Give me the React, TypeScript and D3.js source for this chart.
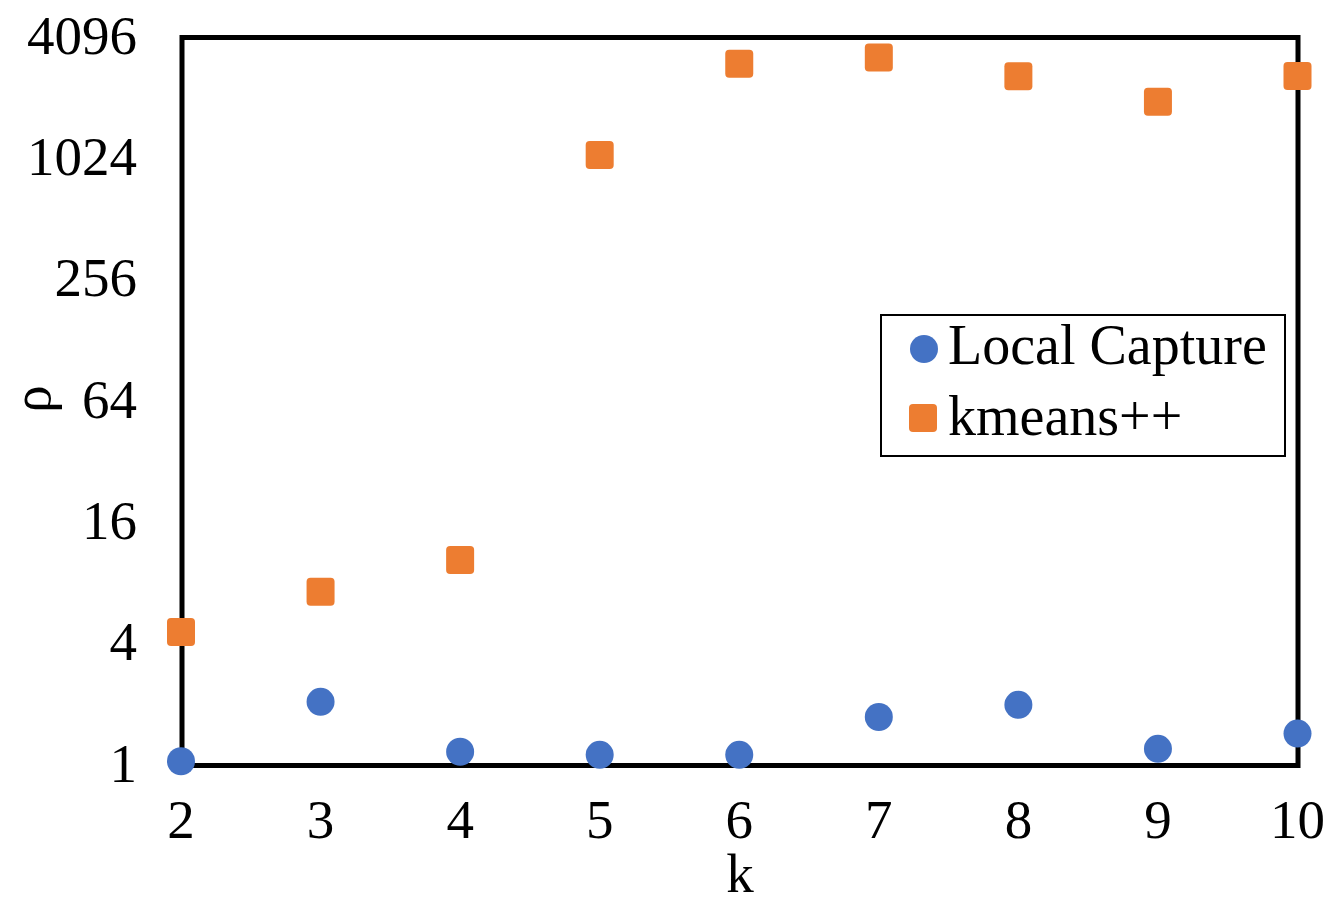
import React, { useEffect, useRef } from 'react';
import * as d3 from 'd3';

const kValues = [2, 3, 4, 5, 6, 7, 8, 9, 10];
const localCapture = [1.05, 2.07, 1.17, 1.13, 1.13, 1.74, 2.0, 1.21, 1.44];
const kmeansPP = [4.6, 7.28, 10.46, 1070, 3035, 3255, 2630, 1965, 2640];
const yTicks = [1, 4, 16, 64, 256, 1024, 4096];
const seriesNames = ['Local Capture', 'kmeans++'];

const BLUE = '#4472C4';
const ORANGE = '#ED7D31';
const FONT = '"Liberation Serif", "Times New Roman", serif';

export default function App() {
  const ref = useRef<SVGSVGElement | null>(null);

  useEffect(() => {
    const width = 1331;
    const height = 897;
    const margin = { top: 37.5, right: 33.5, bottom: 131.5, left: 181 };

    const svg = d3.select(ref.current);
    svg.selectAll('*').remove();

    const x = d3.scaleLinear()
      .domain([2, 10])
      .range([margin.left, width - margin.right]);

    const y = d3.scaleLog()
      .base(2)
      .domain([1, 4096])
      .range([height - margin.bottom, margin.top]);

    // y tick labels
    svg.append('g')
      .selectAll('text')
      .data(yTicks)
      .enter()
      .append('text')
      .attr('x', 137)
      .attr('y', d => y(d) + 16)
      .attr('text-anchor', 'end')
      .attr('font-family', FONT)
      .attr('font-size', 55)
      .text(d => d);

    // x tick labels
    svg.append('g')
      .selectAll('text')
      .data(kValues)
      .enter()
      .append('text')
      .attr('x', d => x(d))
      .attr('y', 838)
      .attr('text-anchor', 'middle')
      .attr('font-family', FONT)
      .attr('font-size', 55)
      .text(d => d);

    // axis titles
    svg.append('text')
      .attr('x', 740)
      .attr('y', 892)
      .attr('text-anchor', 'middle')
      .attr('font-family', FONT)
      .attr('font-size', 55)
      .text('k');

    svg.append('text')
      .attr('transform', 'translate(50,399) rotate(-90)')
      .attr('text-anchor', 'middle')
      .attr('font-family', FONT)
      .attr('font-size', 55)
      .text('ρ');

    // plot frame
    svg.append('rect')
      .attr('x', margin.left + 1)
      .attr('y', margin.top)
      .attr('width', width - margin.left - margin.right - 0.5)
      .attr('height', height - margin.top - margin.bottom)
      .attr('fill', 'none')
      .attr('stroke', 'black')
      .attr('stroke-width', 5);

    const size = 28;

    // kmeans++ squares
    svg.append('g')
      .selectAll('rect')
      .data(kValues)
      .enter()
      .append('rect')
      .attr('x', (d) => x(d) - size / 2)
      .attr('y', (d, i) => y(kmeansPP[i]) - size / 2)
      .attr('width', size)
      .attr('height', size)
      .attr('rx', 4)
      .attr('fill', ORANGE);

    // Local Capture circles
    svg.append('g')
      .selectAll('circle')
      .data(kValues)
      .enter()
      .append('circle')
      .attr('cx', d => x(d))
      .attr('cy', (d, i) => y(localCapture[i]))
      .attr('r', size / 2)
      .attr('fill', BLUE);

    // legend
    const legend = svg.append('g');
    legend.append('rect')
      .attr('x', 881)
      .attr('y', 315)
      .attr('width', 404)
      .attr('height', 141)
      .attr('fill', 'white')
      .attr('stroke', 'black')
      .attr('stroke-width', 2);

    legend.append('circle')
      .attr('cx', 924)
      .attr('cy', 349)
      .attr('r', 14)
      .attr('fill', BLUE);

    legend.append('rect')
      .attr('x', 923 - 14)
      .attr('y', 418 - 14)
      .attr('width', 28)
      .attr('height', 28)
      .attr('rx', 4)
      .attr('fill', ORANGE);

    legend.selectAll('text.lbl')
      .data(seriesNames)
      .enter()
      .append('text')
      .attr('class', 'lbl')
      .attr('x', 948)
      .attr('y', (d, i) => [364, 435][i])
      .attr('font-family', FONT)
      .attr('font-size', 56)
      .text(d => d);
  }, []);

  return (
    <svg
      ref={ref}
      width={1331}
      height={897}
      style={{ position: 'absolute', left: 0, top: 0, background: 'white' }}
    />
  );
}
